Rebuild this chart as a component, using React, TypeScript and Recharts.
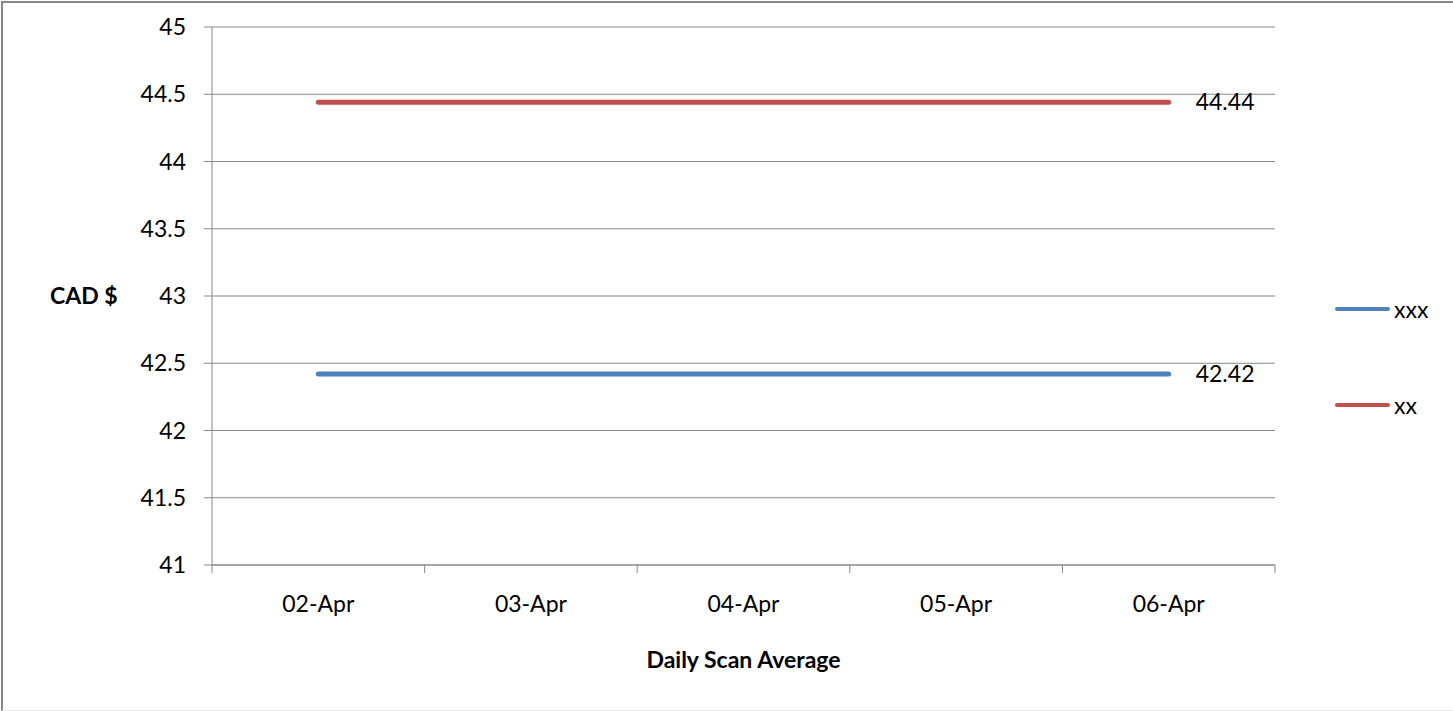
import React from 'react'
import {
  LineChart, Line, XAxis, YAxis, CartesianGrid, Legend, Label, LabelList,
} from 'recharts'

const dates = ['02-Apr', '03-Apr', '04-Apr', '05-Apr', '06-Apr']
const xxxValues = [42.42, 42.42, 42.42, 42.42, 42.42]
const xxValues = [44.44, 44.44, 44.44, 44.44, 44.44]
const yTicks = [41, 41.5, 42, 42.5, 43, 43.5, 44, 44.5, 45]
const seriesOrder = ['xxx', 'xx']

const FONT = 'Lato, "Open Sans", sans-serif'
const FS = 23
const GRAY = '#878787'
const BLUE = '#4F81BD'
const RED = '#C0504D'

const data = dates.map((d, i) => ({ date: d, xxx: xxxValues[i], xx: xxValues[i] }))

// category label in the middle, tick mark on the band boundary (Excel style)
// eslint-disable-next-line @typescript-eslint/no-explicit-any
function DateTick(props: any) {
  const { x, y, payload, index, visibleTicksCount } = props
  const half = payload?.offset ?? 106.3
  const axisY = y - 32
  return (
    <g>
      <line x1={x - half} x2={x - half} y1={axisY} y2={axisY + 8} stroke={GRAY} strokeWidth={1} />
      {index === visibleTicksCount - 1 && (
        <line x1={x + half} x2={x + half} y1={axisY} y2={axisY + 8} stroke={GRAY} strokeWidth={1} />
      )}
      <text x={x} y={y + 15} textAnchor="middle" fontSize={FS} fontFamily={FONT} fill="#000">
        {payload.value}
      </text>
    </g>
  )
}

// only the last point carries its value
// eslint-disable-next-line @typescript-eslint/no-explicit-any
function EndLabel(props: any) {
  const { x, y, value, index } = props
  if (index !== dates.length - 1) return null
  return (
    <text x={x + 27} y={y} dy={8} fontSize={FS} fontFamily={FONT} fill="#000">
      {Number(value).toFixed(2)}
    </text>
  )
}

// eslint-disable-next-line @typescript-eslint/no-explicit-any
function SideLegend({ payload }: any) {
  if (!payload?.length) return null
  // eslint-disable-next-line @typescript-eslint/no-explicit-any
  const items = [...payload].sort((a: any, b: any) => seriesOrder.indexOf(a.value) - seriesOrder.indexOf(b.value))
  return (
    <div style={{ fontFamily: FONT, fontSize: FS, color: '#000' }}>
      {items.map((p: any, i: number) => (
        <div key={p.value} style={{ display: 'flex', alignItems: 'center', height: 24, marginTop: i ? 72 : 0 }}>
          <span style={{ display: 'inline-block', width: 55, height: 4, borderRadius: 2, background: p.color, marginRight: 4 }} />
          <span>{p.value}</span>
        </div>
      ))}
    </div>
  )
}

export default function App() {
  return (
    <div style={{ position: 'absolute', left: 0, top: 0, width: 1453, height: 711, background: '#fff' }}>
      <div
        style={{
          position: 'absolute', left: 1, top: 1, width: 1460, height: 707,
          borderLeft: `2px solid ${GRAY}`, borderTop: `2px solid ${GRAY}`, borderBottom: '1px solid #e8e8e8',
          pointerEvents: 'none',
        }}
      />
      <LineChart width={1453} height={711} data={data} margin={{ top: 27, right: 178, bottom: 0, left: 0 }}>
        <CartesianGrid vertical={false} stroke={GRAY} />
        <XAxis
          dataKey="date"
          scale="band"
          height={146}
          axisLine={{ stroke: GRAY }}
          tickLine={false}
          tickSize={8}
          tickMargin={24}
          tick={<DateTick />}
          interval={0}
        >
          <Label
            value="Daily Scan Average"
            position="insideTop"
            offset={87}
            style={{ fill: '#000', fontSize: FS, fontWeight: 700, fontFamily: FONT }}
          />
        </XAxis>
        <YAxis
          type="number"
          domain={[41, 45]}
          ticks={yTicks}
          width={212}
          axisLine={{ stroke: GRAY }}
          tickLine={{ stroke: GRAY }}
          tickSize={8}
          tickMargin={18}
          tick={{ fill: '#000', fontSize: FS, fontFamily: FONT }}
        >
          <Label
            value="CAD $"
            position="insideLeft"
            offset={50}
            style={{ fill: '#000', fontSize: FS, fontWeight: 700, fontFamily: FONT }}
          />
        </YAxis>
        <Legend
          layout="vertical"
          align="center"
          verticalAlign="middle"
          content={<SideLegend />}
          wrapperStyle={{ left: 1335, top: 297, width: 110 }}
        />
        <Line
          dataKey="xxx"
          name="xxx"
          stroke={BLUE}
          strokeWidth={5}
          strokeLinecap="round"
          dot={false}
          activeDot={false}
          isAnimationActive={false}
        >
          <LabelList dataKey="xxx" content={<EndLabel />} />
        </Line>
        <Line
          dataKey="xx"
          name="xx"
          stroke={RED}
          strokeWidth={5}
          strokeLinecap="round"
          dot={false}
          activeDot={false}
          isAnimationActive={false}
        >
          <LabelList dataKey="xx" content={<EndLabel />} />
        </Line>
      </LineChart>
    </div>
  )
}
